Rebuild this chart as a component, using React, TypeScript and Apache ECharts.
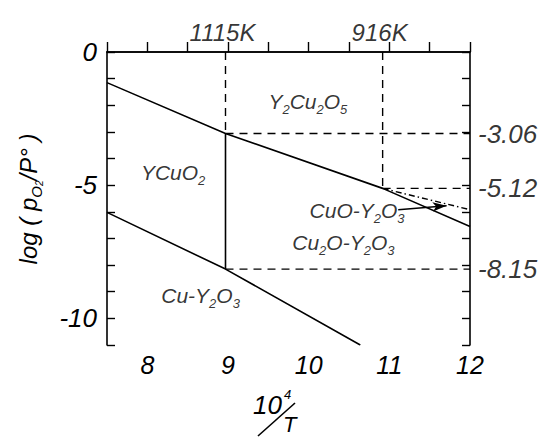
import React, { useEffect, useRef } from "react";
import * as echarts from "echarts";

// ---- data ----
const tempLabels = ["1115K", "916K"];
const tempX = [8.969, 10.917];
const rightLevels = [-3.06, -5.12, -8.15];
const upperBoundary = [[7.5, -1.15], [8.969, -3.06], [10.917, -5.12], [12, -6.55]];
const cuoBoundary = [[10.917, -5.12], [12, -5.92]];
const lowerBoundary = [[7.5, -6.02], [8.969, -8.15], [10.64, -11]];
const ycuo2Boundary = [[8.969, -3.06], [8.969, -8.15]];
const dashedV1115 = [[8.969, 0], [8.969, -3.06]];
const dashedV916 = [[10.917, 0], [10.917, -5.12]];
const dashedH306 = [[8.969, -3.06], [12, -3.06]];
const dashedH512 = [[10.917, -5.12], [12, -5.12]];
const dashedH815 = [[8.969, -8.15], [12, -8.15]];
const arrowLine = [[11.11, -5.92], [11.71, -5.77]];
const regionNames = [
  "{n|Y}{s|2}{n|Cu}{s|2}{n|O}{s|5}",
  "{n|YCuO}{s|2}",
  "{n|CuO-Y}{s|2}{n|O}{s|3}",
  "{n|Cu}{s|2}{n|O-Y}{s|2}{n|O}{s|3}",
  "{n|Cu-Y}{s|2}{n|O}{s|3}",
];
const regionPos = [[9.99, -1.92], [8.32, -4.61], [10.6, -6.03], [10.43, -7.22], [8.66, -9.2]];
const xTicks = [8, 9, 10, 11, 12];
const yTicks = [0, -5, -10];

const FONT = "'Liberation Sans', Arial, sans-serif";

export default function App() {
  const ref = useRef<HTMLDivElement>(null);
  useEffect(() => {
    if (!ref.current) return;
    const chart = echarts.init(ref.current, undefined, { renderer: "svg" });
    const black = "#000";
    const lineSeries = (data: number[][], type: any, width = 1.6) => ({
      type: "line",
      data,
      symbol: "none",
      silent: true,
      lineStyle: { color: black, width, type },
      z: 3,
    });
    const rich = {
      n: { fontSize: 21, fontFamily: FONT, fontStyle: "italic", color: black, lineHeight: 25, verticalAlign: "top" },
      s: { fontSize: 13, fontFamily: FONT, fontStyle: "italic", color: black, lineHeight: 13, verticalAlign: "bottom" },
    };
    chart.setOption({
      animation: false,
      backgroundColor: "#fff",
      grid: { left: 107, right: 74, top: 52, bottom: 93 },
      xAxis: [
        {
          type: "value",
          position: "bottom",
          min: 7.5,
          max: 12,
          interval: 0.5,
          axisLine: { lineStyle: { color: black, width: 1.6 } },
          axisTick: { inside: true, length: 10, lineStyle: { color: black, width: 1.4 } },
          axisLabel: {
            formatter: (v: number) => (xTicks.includes(v) ? String(v) : ""),
            fontSize: 25,
            fontFamily: FONT,
            fontStyle: "italic",
            color: black,
            margin: 7,
          },
          splitLine: { show: false },
        },
        {
          type: "value",
          position: "top",
          min: 7.5,
          max: 12,
          axisLine: { show: true, lineStyle: { color: black, width: 1.6 } },
          axisTick: { show: false },
          axisLabel: { show: false },
          splitLine: { show: false },
        },
      ],
      yAxis: [
        {
          type: "value",
          position: "left",
          min: -11,
          max: 0,
          interval: 1,
          axisLine: { show: true, lineStyle: { color: black, width: 1.6 } },
          axisTick: { show: true, inside: true, length: 8, lineStyle: { color: black, width: 1.4 } },
          axisLabel: {
            formatter: (v: number) => (yTicks.includes(v) ? String(v) : ""),
            fontSize: 26,
            fontFamily: FONT,
            fontStyle: "italic",
            color: black,
            margin: 10,
          },
          splitLine: { show: false },
        },
        {
          type: "value",
          position: "right",
          min: -11,
          max: 0,
          interval: 1,
          axisLine: { show: true, lineStyle: { color: black, width: 1.6 } },
          axisTick: { show: true, inside: true, length: 8, lineStyle: { color: black, width: 1.4 } },
          axisLabel: { show: false },
          splitLine: { show: false },
        },
      ],
      series: [
        lineSeries(upperBoundary, "solid"),
        lineSeries(lowerBoundary, "solid"),
        lineSeries(ycuo2Boundary, "solid"),
        lineSeries(cuoBoundary, [6, 3, 1.5, 3], 1.4),
        lineSeries(dashedV1115, [8, 6], 1.4),
        lineSeries(dashedV916, [8, 6], 1.4),
        lineSeries(dashedH306, [8, 6], 1.4),
        lineSeries(dashedH512, [8, 6], 1.4),
        lineSeries(dashedH815, [8, 6], 1.4),
        {
          type: "line",
          data: [],
          silent: true,
          markLine: {
            silent: true,
            symbol: ["none", "arrow"],
            symbolSize: [7, 14],
            label: { show: false },
            lineStyle: { color: black, width: 1.4, type: "solid" },
            data: [[{ coord: arrowLine[0] }, { coord: arrowLine[1] }]],
          },
        },
        {
          type: "scatter",
          silent: true,
          symbolSize: 0,
          data: tempX.map((x, i) => ({ value: [x, 0], name: tempLabels[i] })),
          label: {
            show: true,
            position: "top",
            distance: 8,
            offset: [-3, 0],
            formatter: (p: any) => p.name,
            fontSize: 24,
            fontFamily: FONT,
            fontStyle: "italic",
            color: black,
          },
        },
        {
          type: "scatter",
          silent: true,
          symbolSize: 0,
          data: rightLevels.map((v) => [12, v]),
          label: {
            show: true,
            position: "right",
            distance: 8,
            formatter: (p: any) => p.value[1].toFixed(2),
            fontSize: 26,
            fontFamily: FONT,
            fontStyle: "italic",
            color: black,
          },
        },
        {
          type: "scatter",
          silent: true,
          symbolSize: 0,
          data: regionPos.map((p, i) => ({ value: p, name: regionNames[i] })),
          label: {
            show: true,
            position: "inside",
            formatter: (p: any) => p.name,
            rich,
          },
        },
      ],
      graphic: [
        {
          type: "text",
          x: 30,
          y: 199,
          rotation: Math.PI / 2,
          style: {
            text: "{n|log ( p}{s|O}{t|2}{n|/P° )}",
            align: "center",
            verticalAlign: "middle",
            rich: {
              n: { fontSize: 24, fontFamily: FONT, fontStyle: "italic", fill: black, lineHeight: 28, verticalAlign: "top" },
              s: { fontSize: 15, fontFamily: FONT, fontStyle: "italic", fill: black, lineHeight: 15, verticalAlign: "bottom" },
              t: { fontSize: 10, fontFamily: FONT, fontStyle: "italic", fill: black, lineHeight: 10, verticalAlign: "bottom" },
            },
          },
        },
        {
          type: "text",
          x: 253,
          y: 392,
          style: { text: "10", fontSize: 26, fontFamily: FONT, fontStyle: "italic", fill: black, verticalAlign: "top" },
        },
        {
          type: "text",
          x: 284,
          y: 388,
          style: { text: "4", fontSize: 13, fontFamily: FONT, fontStyle: "italic", fill: black, verticalAlign: "top" },
        },
        {
          type: "line",
          shape: { x1: 258, y1: 436, x2: 295, y2: 403 },
          style: { stroke: black, lineWidth: 1.6 },
        },
        {
          type: "text",
          x: 283,
          y: 413,
          style: { text: "T", fontSize: 22, fontFamily: FONT, fontStyle: "italic", fill: black, verticalAlign: "top" },
        },
      ],
    });
    return () => chart.dispose();
  }, []);
  return <div ref={ref} style={{ position: "fixed", left: 0, top: 0, width: 544, height: 438 }} />;
}
